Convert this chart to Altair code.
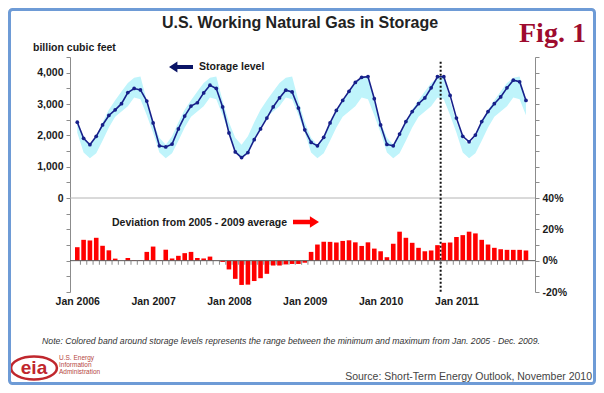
import altair as alt
import pandas as pd

# ---------------- data ----------------
years = [2006, 2007, 2008, 2009, 2010, 2011]
month_names = ["Jan", "Feb", "Mar", "Apr", "May", "Jun",
               "Jul", "Aug", "Sep", "Oct", "Nov", "Dec"]

# working gas in storage, billion cubic feet (end of month)
storage_2006 = [2420, 1905, 1700, 1970, 2330, 2635, 2815, 3010, 3365, 3495, 3450, 3095]
storage_2007 = [2395, 1665, 1630, 1720, 2205, 2615, 2935, 3040, 3355, 3600, 3495, 2905]
storage_2008 = [2075, 1470, 1290, 1450, 1860, 2205, 2550, 2905, 3195, 3440, 3385, 2870]
storage_2009 = [2175, 1775, 1665, 1935, 2395, 2795, 3115, 3405, 3690, 3850, 3875, 3170]
storage_2010 = [2330, 1710, 1665, 2040, 2440, 2760, 3010, 3195, 3515, 3870, 3870, 3275]
storage_2011 = [2550, 1970, 1795, 2010, 2440, 2760, 3010, 3225, 3515, 3760, 3710, 3115]

# deviation from 2005-2009 average, percent
dev_2006 = [8.6, 13.3, 12.9, 14.6, 9.5, 6.6, 1.3, 0.1, 1.7, 0.3, 0.3, 5.6]
dev_2007 = [9.0, 0.3, 7.0, 1.4, 3.1, 4.8, 5.6, 1.7, 1.4, 2.6, 0.1, -0.8]
dev_2008 = [-5.6, -11.6, -15.5, -15.3, -13.0, -11.2, -8.4, -3.1, -3.1, -2.4, -2.1, -2.1]
dev_2009 = [-1.3, 5.6, 10.3, 12.0, 12.0, 11.6, 12.6, 13.0, 11.7, 9.4, 11.7, 7.7]
dev_2010 = [6.0, 2.2, 10.8, 18.5, 14.6, 11.4, 8.2, 6.0, 6.5, 9.9, 11.4, 11.6]
dev_2011 = [15.1, 16.3, 18.5, 17.4, 13.3, 10.3, 8.2, 7.3, 6.9, 6.9, 6.9, 6.5]

# min / max band by calendar month (Jan 2005 - Dec 2009)
band_min = [2080, 1450, 1270, 1430, 1830, 2250, 2590, 2760, 2930, 3210, 3150, 2640]
band_max = [2420, 1920, 1700, 1970, 2420, 2820, 3120, 3400, 3670, 3840, 3875, 3100]

forecast_start = 57.5   # between Oct 2010 and Nov 2010 (month index)

storage = storage_2006 + storage_2007 + storage_2008 + storage_2009 + storage_2010 + storage_2011
deviation = dev_2006 + dev_2007 + dev_2008 + dev_2009 + dev_2010 + dev_2011

rows = []
for i, (s, d) in enumerate(zip(storage, deviation)):
    rows.append({
        "t": i,
        "month": f"{month_names[i % 12]} {years[i // 12]}",
        "storage": s,
        "deviation": d,
        "bmin": band_min[i % 12],
        "bmax": band_max[i % 12],
    })
df = pd.DataFrame(rows)
one = pd.DataFrame({"a": [0]})
fc = pd.DataFrame({"t": [forecast_start]})

# ---------------- styles ----------------
FONT = "Liberation Sans"
NAVY = "#17208a"
BAND = "#bff4fb"
RED = "#ff0000"

xscale = alt.Scale(domain=[-0.36, 71.64], nice=False, zero=False)
xaxis = alt.Axis(values=[0, 12, 24, 36, 48, 60],
                 labelExpr="'Jan ' + (2006 + datum.value / 12)",
                 domain=False, ticks=False, grid=False, labelPadding=4,
                 labelFlush=False, labelOverlap=False)


def X(field):
    return alt.X(field, type="quantitative", scale=xscale, axis=xaxis, title=None)


yscale_up = alt.Scale(domain=[-3000, 4500], nice=False, zero=False)
yaxis_up = alt.Axis(orient="left", values=list(range(-3000, 4501, 500)),
                    labelExpr="datum.value >= 0 && datum.value % 1000 == 0 ? format(datum.value, ',') : ''",
                    grid=False, tickSize=4, labelPadding=3, labelOverlap=False,
                    labelFlush=False)
yscale_lo = alt.Scale(domain=[-20, 130], nice=False, zero=False)
yaxis_lo = alt.Axis(orient="right", values=list(range(-20, 131, 10)),
                    labelExpr="datum.value <= 40 && datum.value % 20 == 0 ? datum.value + '%' : ''",
                    grid=False, tickSize=4, labelPadding=3, labelOverlap=False,
                    labelFlush=False)

# ---------------- upper panel: storage ----------------
band = alt.Chart(df).mark_area(color=BAND).encode(
    x=X("t"),
    y=alt.Y("bmin:Q", scale=yscale_up, axis=yaxis_up, title=None),
    y2="bmax:Q",
)
zero_rule = alt.Chart(one).mark_rule(color="#b4b4b4", strokeWidth=1).encode(
    y=alt.Y(datum=0, scale=yscale_up, axis=yaxis_up, title=None)
)
line = alt.Chart(df).mark_line(
    color=NAVY, strokeWidth=1.6,
    point=alt.OverlayMarkDef(color=NAVY, filled=True, size=14, opacity=1),
).encode(
    x=X("t"),
    y=alt.Y("storage:Q", scale=yscale_up, axis=yaxis_up, title=None),
    tooltip=["month", "storage"],
)
fc_rule = alt.Chart(fc).mark_rule(color="#111111", strokeWidth=2, strokeDash=[2, 2]).encode(
    x=X("t"),
    y=alt.Y(datum=4350, scale=yscale_up, axis=yaxis_up, title=None),
    y2=alt.datum(-3000),
)

arrow_left = "M -1 0 L -0.3 -0.45 L -0.3 -0.17 L 1 -0.17 L 1 0.17 L -0.3 0.17 L -0.3 0.45 Z"
arrow_right = "M 1 0 L 0.3 -0.45 L 0.3 -0.17 L -1 -0.17 L -1 0.17 L 0.3 0.17 L 0.3 0.45 Z"
oval = "M -1 0 A 1 0.5 0 1 1 1 0 A 1 0.5 0 1 1 -1 0 Z"


def txt(text, x, y, size=10.5, weight="bold", align="left", color="#1a1a1a",
        font=FONT, style="normal", baseline="alphabetic"):
    return alt.Chart(one).mark_text(
        text=text, align=align, baseline=baseline, font=font, fontSize=size,
        fontWeight=weight, fontStyle=style, color=color,
    ).encode(x=alt.value(x), y=alt.value(y))


storage_lbl = txt("Storage level", 129, 10, baseline="middle")
storage_arrow = alt.Chart(one).mark_point(
    shape=arrow_left, filled=True, color="#0a1466", size=576, opacity=1
).encode(x=alt.value(111), y=alt.value(10))

# ---------------- decorations ----------------
title = txt("U.S. Working Natural Gas in Storage", 230, -29, size=16, align="center", color="#222222")
fig = txt("Fig. 1", 449, -15, size=28, font="Liberation Serif", color="#9e0b2e")
unit = txt("billion cubic feet", -37, -6)
note = txt("Note:  Colored band around storage levels represents the range between the minimum and maximum from Jan. 2005 - Dec. 2009.",
           221, 287, size=8.7, weight="normal", align="center", color="#333333", style="italic")
source = txt("Source: Short-Term Energy Outlook, November 2010", 522, 323, size=10.5,
             weight="normal", align="right", color="#444444")
logo_oval = alt.Chart(one).mark_point(
    shape=oval, filled=False, color="#c0272d", strokeWidth=2.5, size=2100, opacity=1
).encode(x=alt.value(-36), y=alt.value(311))
logo_txt = txt("eia", -36, 311, size=19, align="center", color="#c0272d", baseline="middle")
logo_l1 = txt("U.S. Energy", -11, 301, size=6.5, weight="normal", color="#b5473f", baseline="middle")
logo_l2 = txt("Information", -11, 308, size=6.5, weight="normal", color="#b5473f", baseline="middle")
logo_l3 = txt("Administration", -11, 315, size=6.5, weight="normal", color="#b5473f", baseline="middle")
border = alt.Chart(one).mark_rect(
    fill="transparent", stroke="#6e9bd6", strokeWidth=3, cornerRadius=3
).encode(x=alt.value(-60.5), x2=alt.value(524.5), y=alt.value(-47.5), y2=alt.value(326.5))

upper = alt.layer(band, zero_rule, line, fc_rule, storage_lbl, storage_arrow,
                  title, fig, unit, note, source, logo_oval, logo_txt,
                  logo_l1, logo_l2, logo_l3, border)

# ---------------- lower panel: deviation ----------------
bars = alt.Chart(df).mark_bar(color=RED, size=4.6).encode(
    x=X("t"),
    y=alt.Y("deviation:Q", scale=yscale_lo, axis=yaxis_lo, title=None),
    y2=alt.datum(0),
    tooltip=["month", "deviation"],
)
base_rule = alt.Chart(one).mark_rule(color="#5a5a5a", strokeWidth=1).encode(
    y=alt.Y(datum=0, scale=yscale_lo, axis=yaxis_lo, title=None)
)
mticks = alt.Chart(df).transform_filter("datum.t < 71").transform_calculate(
    tt="datum.t + 0.5"
).mark_tick(orient="vertical", size=4, thickness=1, color="#5a5a5a", yOffset=2).encode(
    x=X("tt"),
    y=alt.Y(datum=0, scale=yscale_lo, axis=yaxis_lo, title=None),
)
dev_lbl = txt("Deviation from 2005 - 2009 average", 42, 166, baseline="middle")
dev_arrow = alt.Chart(one).mark_point(
    shape=arrow_right, filled=True, color=RED, size=676, opacity=1
).encode(x=alt.value(236), y=alt.value(165))

lower = alt.layer(bars, base_rule, mticks, dev_lbl, dev_arrow)

chart = alt.layer(upper, lower).resolve_scale(y="independent").properties(
    width=465, height=235,
    padding={"left": 62, "top": 49, "right": 61, "bottom": 93},
    autosize=alt.AutoSizeParams(type="none"),
    background="white",
).configure_axis(
    labelFont=FONT, labelFontSize=10.5, labelFontWeight="bold", labelColor="#1a1a1a",
    domainColor="#8c8c8c", tickColor="#8c8c8c", labelOverlap=False,
).configure_view(strokeWidth=0)

chart.save("out.html", embed_options={"renderer": "svg", "actions": False})
